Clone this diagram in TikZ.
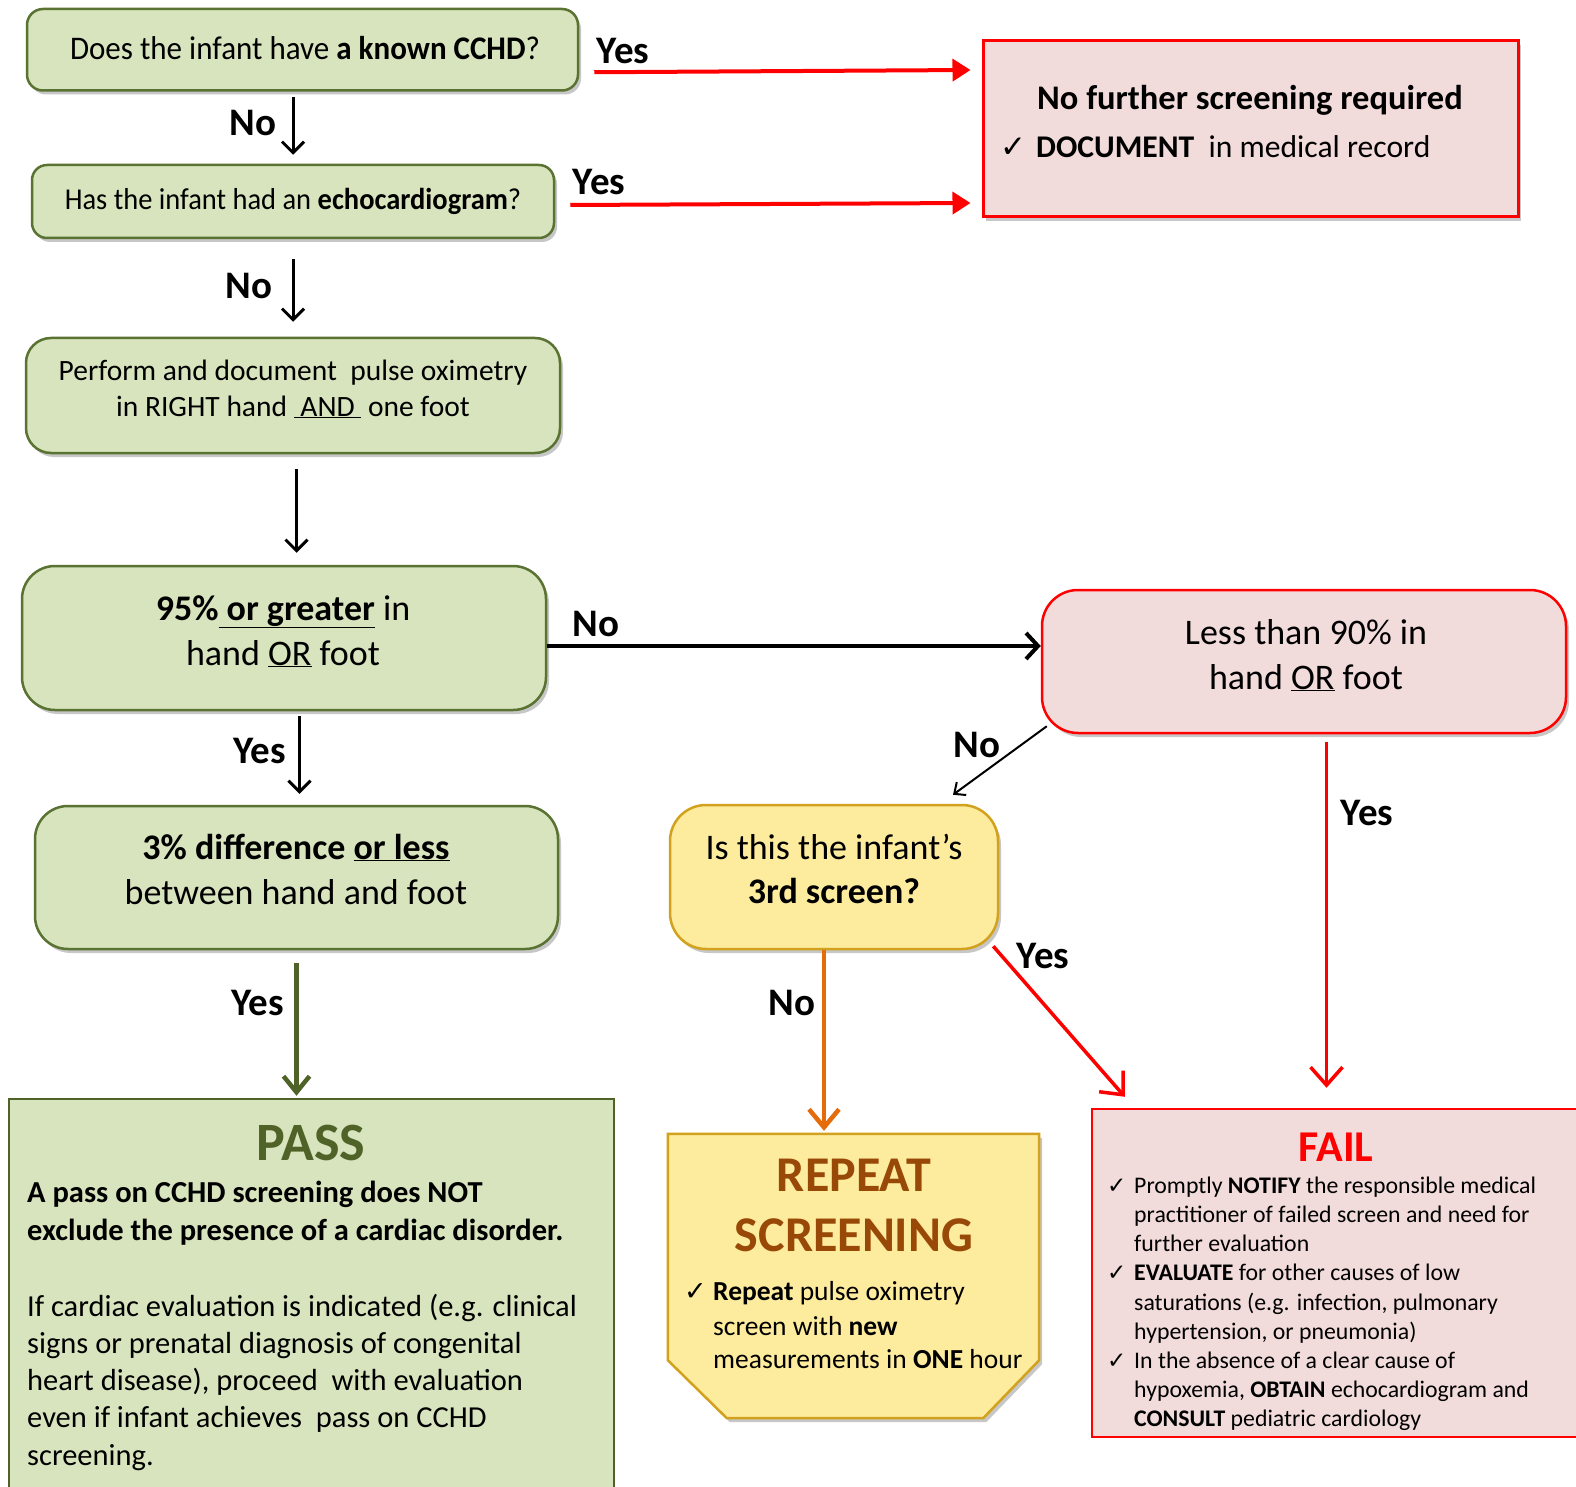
\documentclass[tikz,border=0pt]{standalone}
\usepackage{fontspec}
\setmainfont{Carlito}
\newfontfamily\chkfont{DejaVu Sans}
\newfontfamily\condfont{Carlito}[FakeStretch=0.94]
\usetikzlibrary{arrows.meta,shadows}
\definecolor{gfill}{HTML}{D7E4BD}
\definecolor{gline}{HTML}{5A7232}
\definecolor{pfill}{HTML}{F2DCDB}
\definecolor{rline}{HTML}{FF0000}
\definecolor{yfill}{HTML}{FDEB9E}
\definecolor{yline}{HTML}{D2A21F}
\definecolor{brownt}{HTML}{984807}
\definecolor{olivet}{HTML}{4F6228}
\definecolor{orangea}{HTML}{E46C0A}
\newcommand{\fsz}[1]{\fontsize{#1}{#1}\selectfont}
\newcommand{\ckm}{{\chkfont ✓}}
\tikzset{
  shad/.style={drop shadow={shadow xshift=3pt,shadow yshift=-4pt,opacity=0.22,fill=black}},
  gbox/.style={draw=gline,fill=gfill,line width=2.5pt,inner sep=0pt,shad},
  pbox/.style={draw=rline,fill=pfill,line width=2.5pt,inner sep=0pt},
  ybox/.style={draw=yline,fill=yfill,line width=2.5pt,inner sep=0pt,shad},
  txt/.style={inner sep=0pt,anchor=base},
  ltxt/.style={inner sep=0pt,anchor=base west},
  lbl/.style={inner sep=0pt,anchor=base,font=\fsz{39}\bfseries},
  blk/.style={draw=black,line width=3pt,-{Straight Barb[length=11pt,width=22pt,line width=3pt]}},
  blkh/.style={draw=black,line width=4.5pt,-{Straight Barb[length=12pt,width=26pt,line width=4pt]}},
  blkthin/.style={draw=black,line width=2pt,-{Straight Barb[length=9pt,width=16pt,line width=2pt]}},
  redtop/.style={draw=rline,line width=4pt,-{Triangle[length=18pt,width=22pt]}},
  redlow/.style={draw=rline,line width=3.5pt,-{Straight Barb[length=18pt,width=32pt,line width=3.5pt]}},
  orgarr/.style={draw=orangea,line width=4.5pt,-{Straight Barb[length=18pt,width=30pt,line width=4.5pt]}},
  olvarr/.style={draw=olivet,line width=4.5pt,-{Straight Barb[length=16pt,width=26pt,line width=4.5pt]}},
}
\begin{document}
\begin{tikzpicture}[x=1pt,y=-1pt]
\useasboundingbox (0,0) rectangle (1576,1487);

% ---------- boxes ----------
\node[gbox,rounded corners=16pt,minimum width=551pt,minimum height=81.5pt] (b1) at (302.5,49.75) {};
\node[gbox,rounded corners=15pt,minimum width=522pt,minimum height=73pt] (b2) at (293,201.5) {};
\node[gbox,rounded corners=25pt,minimum width=534pt,minimum height=115pt] (b3) at (293,395.5) {};
\node[gbox,rounded corners=33pt,minimum width=524pt,minimum height=144pt] (b4) at (284,638) {};
\node[pbox,shad,rounded corners=36pt,minimum width=524pt,minimum height=143pt] (b5) at (1304,661.5) {};
\node[gbox,rounded corners=33pt,minimum width=523pt,minimum height=143pt] (b6) at (296.5,877.5) {};
\node[ybox,rounded corners=36pt,minimum width=328pt,minimum height=144pt] (by) at (834,877) {};
\node[pbox,shad,line width=3pt,minimum width=535pt,minimum height=176pt] (nf) at (1250.5,129) {};
\node[draw=olivet,fill=gfill,line width=2.5pt,inner sep=0pt,minimum width=605pt,minimum height=411pt] (pass) at (311.5,1304.5) {};
\node[pbox,minimum width=508pt,minimum height=328pt] (fail) at (1346,1273) {};
\node[inner sep=0pt,minimum width=371pt,minimum height=284pt] (rep) at (853.5,1276) {};
\path[draw=yline,fill=yfill,line width=2.5pt,shad]
  (rep.north west) -- (rep.north east) -- ([yshift=58pt]rep.south east)
  -- ([xshift=-56pt]rep.south east) -- ([xshift=59pt]rep.south west)
  -- ([yshift=58pt]rep.south west) -- cycle;

% ---------- texts ----------
\node[txt,font=\condfont\fsz{33}] (t1) at (305,59.5) {Does the infant have \textbf{a known CCHD}?};
\node[txt,font=\condfont\fsz{30.3}] (t2) at (293,210) {Has the infant had an \textbf{echocardiogram}?};
\node[txt,font=\fsz{29.5}] (t3a) at (293,380) {Perform and document\ \ pulse oximetry};
\node[txt,font=\fsz{29.5}] (t3b) at (293,416) {in RIGHT hand \underline{\ AND\ } one foot};
\node[txt,font=\fsz{36}] (t4a) at (283,620) {\textbf{95\%\underline{\ or greater}} in};
\node[txt,font=\fsz{36}] (t4b) at (283,665) {hand \underline{OR} foot};
\node[txt,font=\fsz{36}] (t5a) at (1306,644) {Less than 90\% in};
\node[txt,font=\fsz{36}] (t5b) at (1306,689) {hand \underline{OR} foot};
\node[txt,font=\fsz{36}] (t6a) at (296,859) {\textbf{3\% difference \underline{or less}}};
\node[txt,font=\fsz{36}] (t6b) at (296,904) {between hand and foot};
\node[txt,font=\fsz{36}] (tya) at (834,859) {Is this the infant’s};
\node[txt,font=\fsz{36}] (tyb) at (834,903) {\textbf{3rd screen?}};

\node[txt,font=\fsz{34.5}\bfseries] (nf1) at (1250,110) {No further screening required};
\node[inner sep=0pt,anchor=base east,font=\fsz{31}] (nfc) at (1027,158) {\ckm};
\node[ltxt,font=\fsz{31.6}] (nf2) at (1036,158) {\textbf{DOCUMENT}\ \ in medical record};

\node[txt,font=\fsz{54}\bfseries,text=olivet] (pt) at (311,1160) {PASS};
\node[ltxt,font=\fsz{30.5}\bfseries] (p1) at (27,1202) {A pass on CCHD screening does NOT};
\node[ltxt,font=\fsz{30.5}\bfseries] (p2) at (27,1240) {exclude the presence of a cardiac disorder.};
\node[ltxt,font=\fsz{30.5}] (p3) at (27,1316) {If cardiac evaluation is indicated (e.g. clinical};
\node[ltxt,font=\fsz{30.5}] (p4) at (27,1353) {signs or prenatal diagnosis of congenital};
\node[ltxt,font=\fsz{30.5}] (p5) at (27,1390) {heart disease), proceed\ \ with evaluation};
\node[ltxt,font=\fsz{30.5}] (p6) at (27,1427) {even if infant achieves\ \ pass on CCHD};
\node[ltxt,font=\fsz{30.5}] (p7) at (27,1465) {screening.};

\node[txt,font=\fsz{50}\bfseries,text=brownt] (r1) at (854,1191) {REPEAT};
\node[txt,font=\fsz{50}\bfseries,text=brownt] (r2) at (854,1251) {SCREENING};
\node[inner sep=0pt,anchor=base west,font=\fsz{27}] (rc) at (684,1300) {\ckm};
\node[ltxt,font=\fsz{27.5}] (r3) at (713,1300) {\textbf{Repeat} pulse oximetry};
\node[ltxt,font=\fsz{27.5}] (r4) at (713,1335) {screen with \textbf{new}};
\node[ltxt,font=\fsz{27.5}] (r5) at (713,1368) {measurements in \textbf{ONE} hour};

\node[txt,font=\fsz{44}\bfseries,text=rline] (ft) at (1336,1161) {FAIL};
\node[inner sep=0pt,anchor=base west,font=\fsz{23}] (fc1) at (1107,1193) {\ckm};
\node[ltxt,font=\fsz{23.8}] (f1) at (1134,1193) {Promptly \textbf{NOTIFY} the responsible medical};
\node[ltxt,font=\fsz{23.8}] (f2) at (1134,1222) {practitioner of failed screen and need for};
\node[ltxt,font=\fsz{23.8}] (f3) at (1134,1251) {further evaluation};
\node[inner sep=0pt,anchor=base west,font=\fsz{23}] (fc2) at (1107,1280) {\ckm};
\node[ltxt,font=\fsz{23.8}] (f4) at (1134,1280) {\textbf{EVALUATE} for other causes of low};
\node[ltxt,font=\fsz{23.8}] (f5) at (1134,1310) {saturations (e.g. infection, pulmonary};
\node[ltxt,font=\fsz{23.8}] (f6) at (1134,1339) {hypertension, or pneumonia)};
\node[inner sep=0pt,anchor=base west,font=\fsz{23}] (fc3) at (1107,1368) {\ckm};
\node[ltxt,font=\fsz{23.8}] (f7) at (1134,1368) {In the absence of a clear cause of};
\node[ltxt,font=\fsz{23.8}] (f8) at (1134,1397) {hypoxemia, \textbf{OBTAIN} echocardiogram and};
\node[ltxt,font=\fsz{23.8}] (f9) at (1134,1426) {\textbf{CONSULT} pediatric cardiology};

% ---------- labels ----------
\node[lbl] (ly1) at (623,64) {Yes};
\node[lbl] (ln1) at (253,136) {No};
\node[lbl] (ly2) at (599,195) {Yes};
\node[lbl] (ln2) at (249,299) {No};
\node[lbl] (ln3) at (596,636) {No};
\node[lbl] (ly3) at (260,763) {Yes};
\node[lbl] (ln4) at (977,757) {No};
\node[lbl] (ly4) at (1367,825) {Yes};
\node[lbl] (ly5) at (258,1015) {Yes};
\node[lbl] (ln5) at (792,1015) {No};
\node[lbl] (ly6) at (1043,968) {Yes};

% ---------- connectors ----------
\draw[redtop] ([xshift=15pt,yshift=-22.5pt]b1.east) -- ([xshift=-11pt,yshift=59pt]nf.west);
\draw[redtop] ([xshift=15pt,yshift=-3.5pt]b2.east) -- ([xshift=-11pt,yshift=-74pt]nf.west);
\draw[blk] ([xshift=-9.5pt,yshift=-5.5pt]b1.south) -- ([yshift=9pt]b2.north);
\draw[blk] ([yshift=-20pt]b2.south) -- ([yshift=15pt]b3.north);
\draw[blk] ([xshift=3.5pt,yshift=-15pt]b3.south) -- ([xshift=12.5pt,yshift=12pt]b4.north);
\draw[blk] ([xshift=15.5pt,yshift=-5pt]b4.south) -- ([xshift=3pt,yshift=11pt]b6.north);
\draw[blkh] ([yshift=-8pt]b4.east) -- ([yshift=15.5pt]b5.west);
\draw[blkthin] ([xshift=6pt,yshift=8pt]b5.south west) -- ([xshift=119pt,yshift=9pt]by.north);
\draw[redlow] ([xshift=22.5pt,yshift=-8pt]b5.south) -- ([xshift=-19.5pt,yshift=20pt]fail.north);
\draw[orgarr] ([xshift=-10pt]by.south) -- ([xshift=-29.5pt,yshift=3pt]rep.north);
\draw[redlow] ([xshift=-6pt,yshift=4pt]by.south east) -- ([xshift=34pt,yshift=11pt]fail.north west);
\draw[olvarr] ([yshift=-13pt]b6.south) -- ([xshift=-15pt,yshift=2pt]pass.north);
\end{tikzpicture}
\end{document}
